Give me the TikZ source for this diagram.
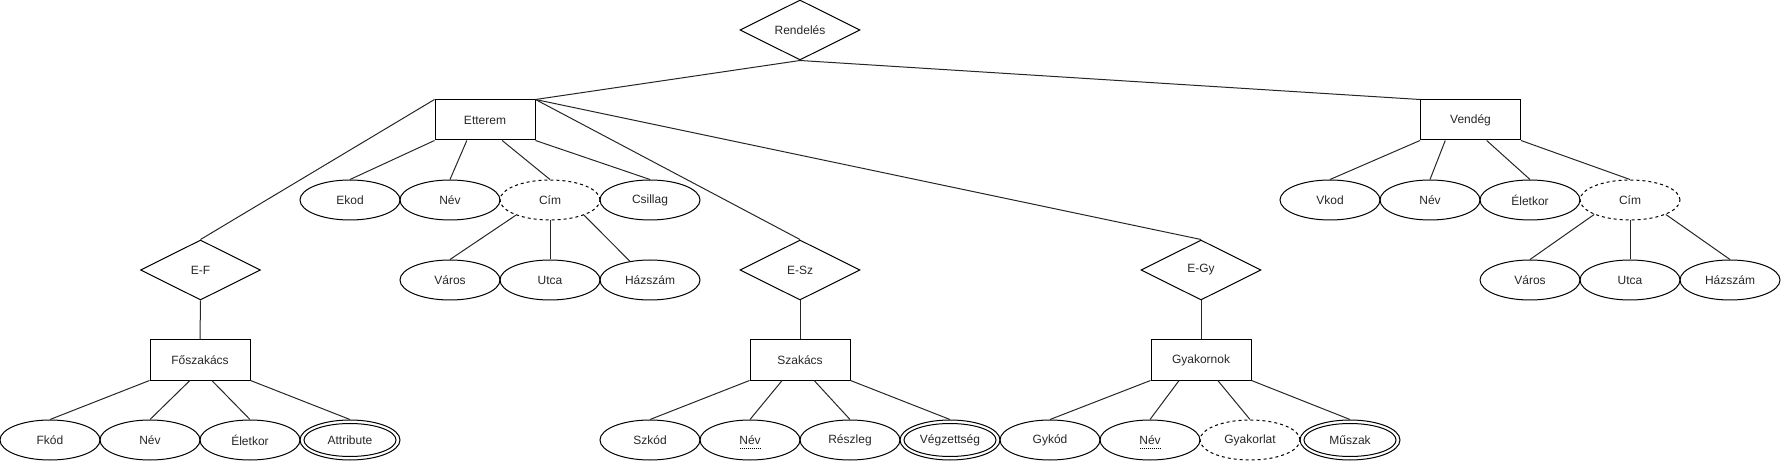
\documentclass[tikz,border=0pt]{standalone}
\usepackage{fontspec}
\setmainfont{Liberation Sans}
\usetikzlibrary{shapes.geometric,calc}
\begin{document}
\begin{tikzpicture}[x=1pt,y=-1pt,line width=1pt,
  every node/.style={font=\fontsize{12}{14}\selectfont,text=black!85},
  ent/.style={draw=black,rectangle,minimum width=100pt,minimum height=40pt,inner sep=0pt},
  rel/.style={draw=black,diamond,aspect=2,minimum width=120pt,minimum height=60pt,inner sep=0pt},
  att/.style={draw=black,ellipse,minimum width=100pt,minimum height=40pt,inner sep=0pt},
  datt/.style={att,dash pattern=on 3pt off 3pt},
  conn/.style={draw=black!85,line width=1pt},
  keyline/.style={draw=black,line width=0.9pt,dash pattern=on 1pt off 1pt}]
\useasboundingbox (0,0) rectangle (1781,462);

% relationships
\node[rel] (rend) at (800,30) {Rendelés};
\node[rel] (ef) at (200.5,270) {E-F};
\node[rel] (esz) at (800,270) {E-Sz};
\node[rel] (egy) at (1201,270) {E-Gy};

% entities
\node[ent] (etterem) at (485,120) {Etterem};
\node[ent] (vendeg) at (1470.5,120) {Vendég};
\node[ent] (fosz) at (200,360) {Főszakács};
\node[ent] (szak) at (800,360) {Szakács};
\node[ent] (gyak) at (1201,360) {Gyakornok};

% Etterem attributes
\node[att] (ekod) at (350,200) {Ekod};
\node[att] (nev1) at (450,200) {Név};
\node[datt] (cim1) at (550,200) {Cím};
\node[att] (csillag) at (650,200) {Csillag};
\node[att] (varos1) at (450,280) {Város};
\node[att] (utca1) at (550,280) {Utca};
\node[att] (haz1) at (650,280) {Házszám};

% Vendeg attributes
\node[att] (vkod) at (1330,200) {Vkod};
\node[att] (nev2) at (1430,200) {Név};
\node[att] (eletkor1) at (1530,200) {Életkor};
\node[datt] (cim2) at (1630,200) {Cím};
\node[att] (varos2) at (1530,280) {Város};
\node[att] (utca2) at (1630,280) {Utca};
\node[att] (haz2) at (1730,280) {Házszám};

% Foszakacs attributes
\node[att] (fkod) at (50,440) {Fkód};
\node[att] (nev3) at (150,440) {Név};
\node[att] (eletkor2) at (250,440) {Életkor};
\node[att] (attr) at (350,440) {Attribute};
\draw (attr.center) ellipse [x radius=46pt,y radius=16.5pt];

% Szakacs attributes
\node[att] (szkod) at (650,440) {Szkód};
\node[att] (nev4) at (750,440) {Név};
\node[att] (reszleg) at (850,440) {Részleg};
\node[att] (vegz) at (950,440) {Végzettség};
\draw (vegz.center) ellipse [x radius=46pt,y radius=16.5pt];
\draw[keyline] ($(nev4.center)+(-10.5,8)$) -- ($(nev4.center)+(10.5,8)$);

% Gyakornok attributes
\node[att] (gykod) at (1050,440) {Gykód};
\node[att] (nev5) at (1150,440) {Név};
\node[datt] (gyakorlat) at (1250,440) {Gyakorlat};
\node[att] (muszak) at (1350,440) {Műszak};
\draw (muszak.center) ellipse [x radius=46pt,y radius=16.5pt];
\draw[keyline] ($(nev5.center)+(-10.5,8)$) -- ($(nev5.center)+(10.5,8)$);

% connectors
\path[conn] (rend.south) -- (etterem.north east);
\path[conn] (rend.south) -- (vendeg.north west);
\path[conn] (etterem.north west) -- (ef.north);
\path[conn] (etterem.north east) -- (esz.north);
\path[conn] (etterem.north east) -- (egy.north);

\path[conn] (etterem.south west) -- (ekod.north);
\path[conn] ($(etterem.south west)!0.32!(etterem.south east)$) -- (nev1.north);
\path[conn] ($(etterem.south west)!0.67!(etterem.south east)$) -- (cim1.north);
\path[conn] (etterem.south east) -- (csillag.north);
\path[conn] (cim1.204) -- (varos1.north);
\path[conn] (cim1.south) -- (utca1.north);
\path[conn] (cim1.336) -- (haz1.137);

\path[conn] (vendeg.south west) -- (vkod.north);
\path[conn] ($(vendeg.south west)!0.25!(vendeg.south east)$) -- (nev2.north);
\path[conn] ($(vendeg.south west)!0.66!(vendeg.south east)$) -- (eletkor1.north);
\path[conn] (vendeg.south east) -- (cim2.north);
\path[conn] (cim2.202) -- (varos2.north);
\path[conn] (cim2.south) -- (utca2.north);
\path[conn] (cim2.338) -- (haz2.north);

\path[conn] (ef.south) -- (fosz.north);
\path[conn] (esz.south) -- (szak.north);
\path[conn] (egy.south) -- (gyak.north);

\path[conn] (fosz.south west) -- (fkod.north);
\path[conn] ($(fosz.south west)!0.4!(fosz.south east)$) -- (nev3.north);
\path[conn] ($(fosz.south west)!0.617!(fosz.south east)$) -- (eletkor2.north);
\path[conn] (fosz.south east) -- (attr.north);

\path[conn] (szak.south west) -- (szkod.north);
\path[conn] ($(szak.south west)!0.323!(szak.south east)$) -- (nev4.north);
\path[conn] ($(szak.south west)!0.64!(szak.south east)$) -- (reszleg.north);
\path[conn] (szak.south east) -- (vegz.north);

\path[conn] (gyak.south west) -- (gykod.north);
\path[conn] ($(gyak.south west)!0.283!(gyak.south east)$) -- (nev5.north);
\path[conn] ($(gyak.south west)!0.666!(gyak.south east)$) -- (gyakorlat.north);
\path[conn] (gyak.south east) -- (muszak.north);
\end{tikzpicture}
\end{document}
